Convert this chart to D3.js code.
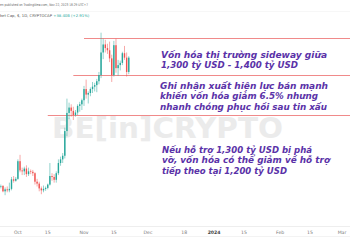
<!DOCTYPE html>
<html>
<head>
<meta charset="utf-8">
<script src="https://cdn.jsdelivr.net/npm/d3@7"></script>
<style>
  body { margin: 0; background: #fff; }
  svg { display: block; font-family: "DejaVu Sans", sans-serif; }
</style>
</head>
<body>
<svg width="350" height="250"></svg>
<script>
// daily candles, total crypto market cap (billions USD)
const days = ["2023-09-22","2023-09-23","2023-09-24","2023-09-25","2023-09-26","2023-09-27","2023-09-28","2023-09-29","2023-09-30",
  "2023-10-01","2023-10-02","2023-10-03","2023-10-04","2023-10-05","2023-10-06","2023-10-07","2023-10-08","2023-10-09","2023-10-10",
  "2023-10-11","2023-10-12","2023-10-13","2023-10-14","2023-10-15","2023-10-16","2023-10-17","2023-10-18","2023-10-19","2023-10-20",
  "2023-10-21","2023-10-22","2023-10-23","2023-10-24","2023-10-25","2023-10-26","2023-10-27","2023-10-28","2023-10-29","2023-10-30",
  "2023-10-31","2023-11-01","2023-11-02","2023-11-03","2023-11-04","2023-11-05","2023-11-06","2023-11-07","2023-11-08","2023-11-09",
  "2023-11-10","2023-11-11","2023-11-12","2023-11-13","2023-11-14","2023-11-15","2023-11-16","2023-11-17","2023-11-18","2023-11-19",
  "2023-11-20","2023-11-21","2023-11-22"];
const opens  = [1045,1040,1041,1030,1034,1032,1035,1055,1052, 1056,1094,1074,1072,1078,1066,1072,1071,1068,1050,
  1046,1036,1032,1035,1037,1044,1062,1060,1054,1068, 1090,1098,1106,1162,1205,1218,1210,1200,1206,1222,
  1226,1236,1264,1250,1254,1264,1270,1274,1284,1300, 1360,1382,1372,1366,1344,1300,1380,1318,1326,1332, 1358,1346,1308];
const highs  = [1050,1044,1043,1038,1040,1048,1060,1062,1060, 1098,1108,1080,1082,1085,1080,1076,1075,1070,1056,
  1050,1040,1042,1040,1046,1090,1068,1066,1072,1098, 1104,1112,1170,1240,1230,1226,1220,1212,1226,1232,
  1240,1272,1288,1258,1268,1282,1280,1290,1308,1415, 1398,1395,1384,1390,1354,1392,1398,1340,1338,1362, 1378,1360,1350];
const lows   = [1036,1036,1028,1022,1028,1028,1032,1048,1050, 1054,1070,1064,1064,1060,1062,1066,1062,1044,1040,
  1030,1024,1028,1031,1034,1042,1052,1048,1048,1064, 1084,1090,1100,1150,1190,1196,1188,1196,1200,1208,
  1212,1222,1240,1228,1246,1254,1258,1256,1276,1292, 1342,1360,1356,1334,1282,1296,1306,1298,1312,1326, 1340,1296,1302];
const closes = [1040,1041,1030,1034,1032,1035,1055,1052,1056, 1094,1074,1072,1078,1066,1072,1071,1068,1050,1046,
  1036,1032,1035,1037,1044,1062,1060,1054,1068,1090, 1098,1106,1162,1205,1218,1210,1200,1206,1222,1226,
  1236,1264,1250,1254,1264,1270,1274,1284,1300,1360, 1382,1372,1366,1344,1300,1380,1318,1326,1332,1358, 1346,1308,1346];

// support / resistance levels and where they start
const levels = [1400, 1300, 1200];
const levelStarts = ["2023-11-01", "2023-10-27", "2023-10-15"];

// time axis
const tickDates  = ["2023-10-01","2023-10-15","2023-11-01","2023-11-15","2023-12-01","2023-12-18","2024-01-01","2024-01-15","2024-02-01","2024-02-15","2024-03-01"];
const tickLabels = ["Oct","15","Nov","15","Dec","18","2024","15","Feb","15","Mar"];

const parse = d3.utcParse("%Y-%m-%d");
const svg = d3.select("svg");
const W = 350;

const x = d3.scaleUtc().domain([parse("2023-11-01"), parse("2024-03-01")]).range([84, 342]);
const y = d3.scaleLog().domain([1200, 1400]).range([115, 38]);

const green = "#26a69a", red = "#ef5350";

// header
svg.append("line").attr("x1", 0).attr("x2", W).attr("y1", 11.5).attr("y2", 11.5)
  .attr("stroke", "#f2f2f2").attr("stroke-width", 0.6);
svg.append("text").attr("x", 0).attr("y", 6.3).attr("font-size", 3.6).attr("fill", "#666")
  .attr("textLength", 88).attr("lengthAdjust", "spacingAndGlyphs")
  .text("en published on TradingView.com, Nov 22, 2023 18:29 UTC+7");
const h2 = svg.append("text").attr("x", 0).attr("y", 17).attr("font-size", 3.8).attr("fill", "#555");
h2.append("tspan").text("ket Cap, $, 1D, CRYPTOCAP ");
h2.append("tspan").attr("fill", green).text(" +38.40B (+2.91%)");

// watermark
svg.append("text").attr("x", 52).attr("y", 138).attr("font-size", 29).attr("font-weight", "bold")
  .attr("fill", "#ebebeb").attr("textLength", 231).attr("lengthAdjust", "spacingAndGlyphs")
  .text("BE[in]CRYPTO");

// level lines
svg.append("g").selectAll("line").data(levels).join("line")
  .attr("x1", (d, i) => x(parse(levelStarts[i]))).attr("x2", W)
  .attr("y1", d => Math.round(y(d)) + 0.5).attr("y2", d => Math.round(y(d)) + 0.5)
  .attr("stroke", "#f08a8a").attr("stroke-width", 1);

// candles
const candles = days.map((d, i) => ({ t: parse(d), o: opens[i], h: highs[i], l: lows[i], c: closes[i] }));
const cg = svg.append("g");
cg.selectAll("line").data(candles).join("line")
  .attr("x1", d => x(d.t)).attr("x2", d => x(d.t))
  .attr("y1", d => y(d.h)).attr("y2", d => y(d.l))
  .attr("stroke", d => d.c >= d.o ? green : red).attr("stroke-width", 0.5);
cg.selectAll("rect").data(candles).join("rect")
  .attr("x", d => x(d.t) - 0.7).attr("width", 1.4)
  .attr("y", d => y(Math.max(d.o, d.c)))
  .attr("height", d => Math.max(0.6, Math.abs(y(d.o) - y(d.c))))
  .attr("fill", d => d.c >= d.o ? green : red);

// time axis
svg.append("line").attr("x1", 0).attr("x2", W).attr("y1", 226.5).attr("y2", 226.5).attr("stroke", "#eee");
svg.append("line").attr("x1", 0).attr("x2", W).attr("y1", 236.5).attr("y2", 236.5).attr("stroke", "#f3f3f3");
svg.append("g").selectAll("text").data(tickDates).join("text")
  .attr("x", d => x(parse(d))).attr("y", 233.5)
  .attr("text-anchor", "middle").attr("font-size", 4.6)
  .attr("fill", (d, i) => tickLabels[i] === "2024" ? "#444" : "#777")
  .attr("font-weight", (d, i) => tickLabels[i] === "2024" ? "bold" : "normal")
  .text((d, i) => tickLabels[i]);

// annotations
const notes = [
  { x: 161, y: 58,    w: 166, t: "Vốn hóa thị trường sideway giữa" },
  { x: 161, y: 67.5,  w: 137, t: "1,300 tỷ USD - 1,400 tỷ USD" },
  { x: 160, y: 88.5,  w: 168, t: "Ghi nhận xuất hiện lực bán mạnh" },
  { x: 160, y: 99,    w: 158, t: "khiến vốn hóa giảm 6.5% nhưng" },
  { x: 160, y: 109.5, w: 167, t: "nhanh chóng phục hồi sau tin xấu" },
  { x: 162, y: 152.5, w: 150, t: "Nếu hỗ trợ 1,300 tỷ USD bị phá" },
  { x: 162, y: 163,   w: 168, t: "vỡ, vốn hóa có thể giảm về hỗ trợ" },
  { x: 162, y: 173.5, w: 125, t: "tiếp theo tại 1,200 tỷ USD" }
];
svg.append("g").selectAll("text").data(notes).join("text")
  .attr("x", d => d.x).attr("y", d => d.y)
  .attr("font-size", 9.5).attr("font-style", "italic").attr("font-weight", "bold")
  .attr("fill", "#5a32a8")
  .attr("textLength", d => d.w).attr("lengthAdjust", "spacingAndGlyphs")
  .text(d => d.t);
</script>
</body>
</html>
